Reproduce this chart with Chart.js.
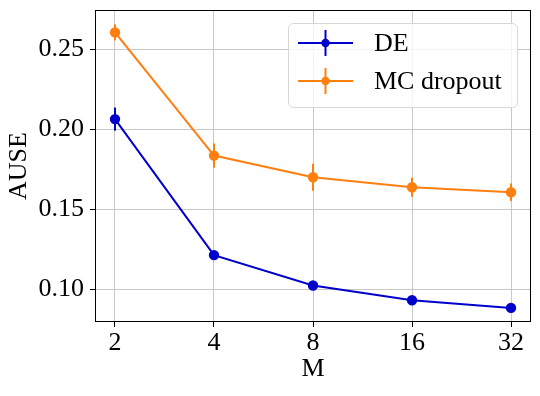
<!DOCTYPE html>
<html>
<head>
<meta charset="utf-8">
<script src="https://cdn.jsdelivr.net/npm/chart.js@4"></script>
<style>
  html, body { margin: 0; padding: 0; background: #fff; }
  #wrap { width: 540px; height: 396px; }
</style>
</head>
<body>
<div id="wrap"><canvas id="chart" width="540" height="396"></canvas></div>
<script>
const mLabels  = ['2', '4', '8', '16', '32'];
const deMean   = [0.2062, 0.1212, 0.1022, 0.0930, 0.0882];
const deErr    = [0.0072, 0.0020, 0.0015, 0.0012, 0.0010];
const mcMean   = [0.2604, 0.1834, 0.1699, 0.1636, 0.1605];
const mcErr    = [0.0050, 0.0076, 0.0084, 0.0060, 0.0055];
const yTicks   = [0.10, 0.15, 0.20, 0.25];

const FONT = "'Liberation Serif', 'Times New Roman', serif";
const BLUE   = '#0000cc';
const ORANGE = '#ff7f0e';

const toPoints = arr => arr.map((v, i) => ({ x: i, y: v }));

// vertical error bars, drawn under the lines and markers
const errorBars = {
  id: 'errorBars',
  beforeDatasetsDraw(chart) {
    const { ctx, scales: { x, y } } = chart;
    const sets = [[deMean, deErr, BLUE], [mcMean, mcErr, ORANGE]];
    ctx.save();
    ctx.lineWidth = 2;
    sets.forEach(([mean, err, col]) => {
      ctx.strokeStyle = col;
      mean.forEach((m, i) => {
        const px = x.getPixelForValue(i);
        ctx.beginPath();
        ctx.moveTo(px, y.getPixelForValue(m - err[i]));
        ctx.lineTo(px, y.getPixelForValue(m + err[i]));
        ctx.stroke();
      });
    });
    ctx.restore();
  },
  afterDatasetsDraw(chart) {
    const { ctx, chartArea: a } = chart;
    ctx.save();
    ctx.strokeStyle = '#000';
    ctx.lineWidth = 1;
    ctx.strokeRect(a.left + 0.5, a.top + 0.5, a.right - a.left - 1, a.bottom - a.top - 1);
    ctx.restore();
  }
};

// matplotlib-like legend box with errorbar handles
const mplLegend = {
  id: 'mplLegend',
  afterDraw(chart) {
    const { ctx, chartArea: a } = chart;
    const w = 229, h = 84;
    const bx = a.right - 14 - w, by = a.top + 13;
    ctx.save();
    ctx.beginPath();
    ctx.roundRect(bx + 0.5, by + 0.5, w, h, 5);
    ctx.fillStyle = 'rgba(255,255,255,0.8)';
    ctx.fill();
    ctx.strokeStyle = '#d6d6d6';
    ctx.lineWidth = 1;
    ctx.stroke();

    const items = [['DE', BLUE], ['MC dropout', ORANGE]];
    items.forEach(([label, col], i) => {
      const cy = by + 20 + i * 38;
      const x0 = bx + 10, x1 = bx + 65, xm = (x0 + x1) / 2;
      ctx.strokeStyle = col;
      ctx.lineWidth = 2;
      ctx.beginPath();
      ctx.moveTo(x0, cy); ctx.lineTo(x1, cy);
      ctx.moveTo(xm, cy - 13); ctx.lineTo(xm, cy + 13);
      ctx.stroke();
      ctx.fillStyle = col;
      ctx.beginPath();
      ctx.arc(xm, cy, 4.2, 0, Math.PI * 2);
      ctx.fill();
      ctx.fillStyle = '#000';
      ctx.font = `26px ${FONT}`;
      ctx.textBaseline = 'middle';
      ctx.textAlign = 'left';
      ctx.fillText(label, bx + 86, cy + 1);
    });
    ctx.restore();
  }
};

const ctx = document.getElementById('chart').getContext('2d');
new Chart(ctx, {
  type: 'line',
  data: {
    datasets: [
      { label: 'DE', data: toPoints(deMean), borderColor: BLUE, backgroundColor: BLUE,
        borderWidth: 2, pointRadius: 4.2, pointHoverRadius: 4.2, tension: 0 },
      { label: 'MC dropout', data: toPoints(mcMean), borderColor: ORANGE, backgroundColor: ORANGE,
        borderWidth: 2, pointRadius: 4.2, pointHoverRadius: 4.2, tension: 0 },
    ],
  },
  options: {
    responsive: false,
    animation: false,
    layout: { padding: { left: 0, top: 10, right: 9, bottom: 0 } },
    plugins: { legend: { display: false }, tooltip: { enabled: false } },
    scales: {
      x: {
        type: 'linear',
        min: -0.202, max: 4.202,
        afterBuildTicks: s => { s.ticks = mLabels.map((_, i) => ({ value: i })); },
        afterFit: s => { s.height = 74; s.paddingLeft = 0; s.paddingRight = 0; },
        ticks: { callback: v => mLabels[v], color: '#000', font: { family: FONT, size: 26 }, padding: 1, maxRotation: 0 },
        grid: { color: '#c8c8c8', tickColor: '#000', tickLength: 5 },
        border: { display: false },
        title: { display: true, text: 'M', color: '#000', font: { family: FONT, size: 26 }, padding: { top: 0, bottom: 11 } },
      },
      y: {
        min: 0.0794, max: 0.2744,
        afterBuildTicks: s => { s.ticks = yTicks.map(v => ({ value: v })); },
        afterFit: s => { s.width = 95; s.paddingTop = 0; s.paddingBottom = 0; },
        ticks: { callback: v => v.toFixed(2), color: '#000', font: { family: FONT, size: 26 }, padding: 6 },
        grid: { color: '#c8c8c8', tickColor: '#000', tickLength: 5 },
        border: { display: false },
        title: { display: true, text: 'AUSE', color: '#000', font: { family: FONT, size: 26 }, padding: { top: 4, bottom: 0 } },
      },
    },
  },
  plugins: [errorBars, mplLegend],
});
</script>
</body>
</html>
